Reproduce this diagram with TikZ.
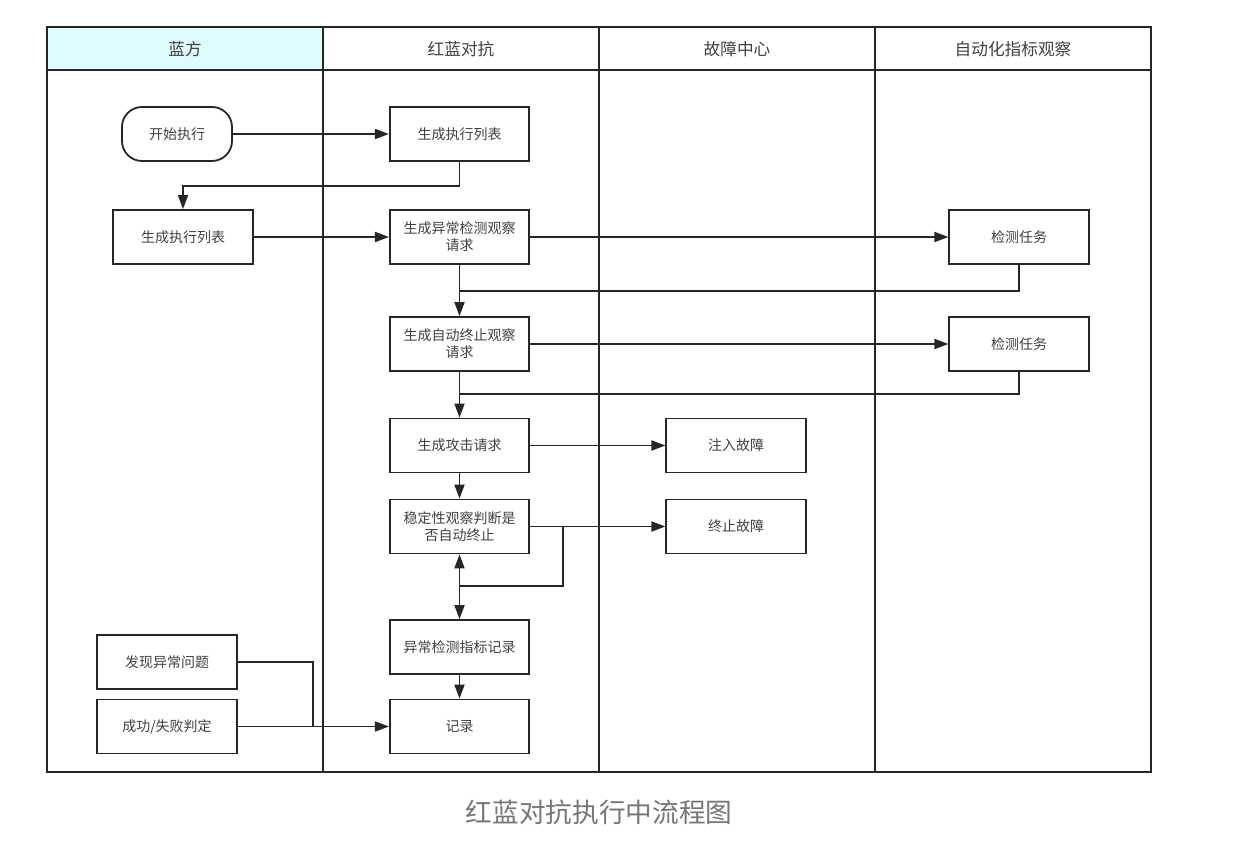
\documentclass[tikz,border=0pt]{standalone}
\usepackage{fontspec}
\setmainfont{Noto Sans CJK SC}
\usetikzlibrary{arrows.meta,positioning}
\definecolor{lanecyan}{RGB}{223,251,253}
\definecolor{linegray}{RGB}{38,38,38}
\definecolor{textgray}{RGB}{64,64,64}
\definecolor{captiongray}{RGB}{118,118,118}

\tikzset{
  box/.style={draw=linegray,line width=1.35pt,minimum width=104.5pt,minimum height=40.5pt,
    inner sep=1pt,align=center,text=textgray,font=\fontsize{10.5}{12.8}\selectfont},
  startbox/.style={box,rounded corners=15pt,minimum width=82.5pt},
  lanehead/.style={text=textgray,font=\fontsize{12.5}{14}\selectfont},
  arr/.style={draw=linegray,line width=1.35pt,-{Triangle[length=10.5pt,width=7.5pt]}},
  link/.style={draw=linegray,line width=1.35pt},
}

\begin{document}
\begin{tikzpicture}[x=0.75pt,y=-0.75pt]
\useasboundingbox (0,0) rectangle (1236,848);
% swimlane frame
\fill[lanecyan] (47,27) rectangle (323,70);
\draw[link] (47,27) rectangle (1151,772);
\draw[link] (47,70) -- (1151,70);
\foreach \x in {323,599,875}{
  \draw[link] (\x,27) -- (\x,772);
}
\node[lanehead] (h1) at (185,49) {蓝方};
\node[lanehead] (h2) at (461,49) {红蓝对抗};
\node[lanehead] (h3) at (737,49) {故障中心};
\node[lanehead] (h4) at (1013,49) {自动化指标观察};

% blue side
\node[startbox] (start) at (177,134) {开始执行};
\node[box] (blist) at (183,237) {生成执行列表};
\node[box] (found) at (167,662) {发现异常问题};
\node[box] (judge) at (167,726.5) {成功/失败判定};

% red-blue side
\node[box] (rlist) at (459.5,134) {生成执行列表};
\node[box] (anom) at (459.5,237) {生成异常检测观察\\请求};
\node[box] (auto) at (459.5,344) {生成自动终止观察\\请求};
\node[box] (attack) at (459.5,445.5) {生成攻击请求};
\node[box] (stab) at (459.5,526.5) {稳定性观察判断是\\否自动终止};
\node[box] (arec) at (459.5,647) {异常检测指标记录};
\node[box] (rec) at (459.5,726.5) {记录};

% fault center
\node[box] (inject) at (736,445.5) {注入故障};
\node[box] (stop) at (736,526.5) {终止故障};

% metric observation
\node[box] (task1) at (1019,237) {检测任务};
\node[box] (task2) at (1019,344) {检测任务};

% connectors
\draw[arr] (start.east) -- (rlist.west);
\draw[arr] (rlist.south) -- ++(0,24) -| (blist.north);
\draw[arr] (blist.east) -- (anom.west);
\draw[arr] (anom.east) -- (task1.west);
\coordinate (m1) at (459.5,291);
\draw[link] (task1.south) |- (m1);
\draw[arr] (anom.south) -- (auto.north);
\draw[arr] (auto.east) -- (task2.west);
\coordinate (m2) at (459.5,394);
\draw[link] (task2.south) |- (m2);
\draw[arr] (auto.south) -- (attack.north);
\draw[arr] (attack.east) -- (inject.west);
\draw[arr] (attack.south) -- (stab.north);
\draw[arr] (stab.east) -- (stop.west);
\coordinate (m3) at (563,586);
\draw[link] (stab.east -| m3) -- (m3) -- (m3 -| stab.south);
\draw[arr] (m3 -| stab.south) -- (stab.south);
\draw[arr] (m3 -| stab.south) -- (arec.north);
\draw[arr] (arec.south) -- (rec.north);
\coordinate (m4) at (313,726.5);
\draw[link] (found.east) -| (m4);
\draw[arr] (judge.east) -- (rec.west);

\node[text=captiongray,font=\fontsize{20}{24}\selectfont] (cap) at (599,812) {红蓝对抗执行中流程图};
\end{tikzpicture}
\end{document}
